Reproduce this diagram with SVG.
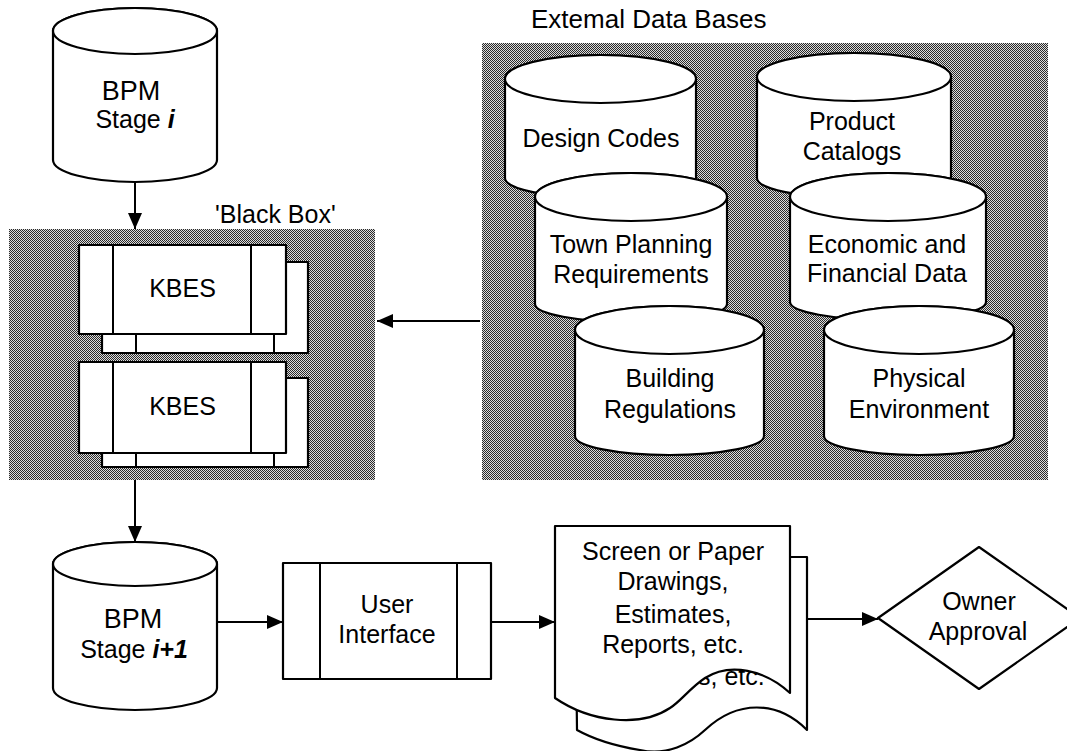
<svg xmlns="http://www.w3.org/2000/svg" width="1067" height="751" viewBox="0 0 1067 751">
<style>
  text { font-family: "Liberation Sans", Arial, sans-serif; font-size: 25px; fill: #000; }
  .c { text-anchor: middle; }
  .it { font-style: italic; font-weight: bold; }
  .s { fill: #fff; stroke: #000; stroke-width: 2.2; stroke-linejoin: round; }
  .ln { fill: none; stroke: #000; stroke-width: 2; }
  .shade { fill: url(#dither); }
  .conn { fill: none; stroke: #000; stroke-width: 2; marker-end: url(#arr); }
</style>
<defs>
  <pattern id="dither" x="0" y="0" width="2" height="2" patternUnits="userSpaceOnUse">
    <rect width="2" height="2" fill="#dcdcdc"/>
    <rect x="0" y="0" width="1" height="1" fill="#2a2a2a"/>
    <rect x="1" y="1" width="1" height="1" fill="#2a2a2a"/>
  </pattern>
  <marker id="arr" markerWidth="16" markerHeight="14" refX="16" refY="7" orient="auto" markerUnits="userSpaceOnUse">
    <path d="M0,0 L16,7 L0,14 Z" fill="#000"/>
  </marker>
</defs>
<rect width="1067" height="751" fill="#fff"/>

<!-- BPM Stage i -->
<g id="bpm-i">
  <path class="s" d="M53,31 V160 A82,22 0 0 0 217,160 V31 A82,23 0 0 0 53,31 Z"/>
  <ellipse class="s" cx="135" cy="31" rx="82" ry="23"/>
  <text class="c" x="131" y="100" style="font-size:27px">BPM</text>
  <text class="c" x="135" y="128">Stage <tspan class="it">i</tspan></text>
</g>

<!-- Black box -->
<g id="black-box">
  <rect class="shade" x="9" y="229" width="366" height="251"/>
  <text x="215" y="223">'Black Box'</text>
</g>

<g id="kbes-1">
  <rect class="s" x="102" y="262" width="206" height="91"/>
  <line class="ln" x1="136" y1="262" x2="136" y2="353"/>
  <line class="ln" x1="274" y1="262" x2="274" y2="353"/>
  <rect class="s" x="79" y="245" width="207" height="89"/>
  <line class="ln" x1="113" y1="245" x2="113" y2="334"/>
  <line class="ln" x1="251" y1="245" x2="251" y2="334"/>
  <text class="c" x="182.5" y="297">KBES</text>
</g>

<g id="kbes-2">
  <rect class="s" x="102" y="378" width="206" height="89"/>
  <line class="ln" x1="136" y1="378" x2="136" y2="467"/>
  <line class="ln" x1="274" y1="378" x2="274" y2="467"/>
  <rect class="s" x="79" y="362" width="207" height="91"/>
  <line class="ln" x1="113" y1="362" x2="113" y2="453"/>
  <line class="ln" x1="251" y1="362" x2="251" y2="453"/>
  <text class="c" x="182.5" y="415">KBES</text>
</g>

<!-- External data bases -->
<g id="external-data-bases">
  <rect class="shade" x="482" y="43" width="566" height="437"/>
  <text x="531" y="28" style="font-size:26px">Extemal Data Bases</text>
</g>

<g id="design-codes">
  <path class="s" d="M505,79 V178 A95.5,20 0 0 0 696,178 V79 A95.5,24 0 0 0 505,79 Z"/>
  <ellipse class="s" cx="600.5" cy="79" rx="95.5" ry="24"/>
  <text class="c" x="601" y="147">Design Codes</text>
</g>

<g id="product-catalogs">
  <path class="s" d="M757,77 V178 A97,20 0 0 0 951,178 V77 A97,24 0 0 0 757,77 Z"/>
  <ellipse class="s" cx="854" cy="77" rx="97" ry="24"/>
  <text class="c" x="852" y="130">Product</text>
  <text class="c" x="852" y="160">Catalogs</text>
</g>

<g id="town-planning">
  <path class="s" d="M535,197 V304 A96,18 0 0 0 727,304 V197 A96,24 0 0 0 535,197 Z"/>
  <ellipse class="s" cx="631" cy="197" rx="96" ry="24"/>
  <text class="c" x="631" y="253">Town Planning</text>
  <text class="c" x="631" y="283">Requirements</text>
</g>

<g id="economic-financial">
  <path class="s" d="M790,197 V302 A98,18 0 0 0 986,302 V197 A98,24 0 0 0 790,197 Z"/>
  <ellipse class="s" cx="888" cy="197" rx="98" ry="24"/>
  <text class="c" x="887" y="253">Economic and</text>
  <text class="c" x="887" y="282">Financial Data</text>
</g>

<g id="building-regulations">
  <path class="s" d="M575,330 V436 A94.5,19 0 0 0 764,436 V330 A94.5,24 0 0 0 575,330 Z"/>
  <ellipse class="s" cx="669.5" cy="330" rx="94.5" ry="24"/>
  <text class="c" x="670" y="387">Building</text>
  <text class="c" x="670" y="418">Regulations</text>
</g>

<g id="physical-environment">
  <path class="s" d="M824,330 V436 A95,19 0 0 0 1014,436 V330 A95,24 0 0 0 824,330 Z"/>
  <ellipse class="s" cx="919" cy="330" rx="95" ry="24"/>
  <text class="c" x="919" y="387">Physical</text>
  <text class="c" x="919" y="418">Environment</text>
</g>

<!-- BPM Stage i+1 -->
<g id="bpm-i1">
  <path class="s" d="M53,564 V688 A82,22 0 0 0 217,688 V564 A82,22 0 0 0 53,564 Z"/>
  <ellipse class="s" cx="135" cy="564" rx="82" ry="22"/>
  <text class="c" x="133" y="628" style="font-size:27px">BPM</text>
  <text class="c" x="134" y="658">Stage <tspan class="it">i+1</tspan></text>
</g>

<!-- User Interface -->
<g id="user-interface">
  <rect class="s" x="283" y="563" width="208" height="116"/>
  <line class="ln" x1="320" y1="563" x2="320" y2="679"/>
  <line class="ln" x1="457" y1="563" x2="457" y2="679"/>
  <text class="c" x="387" y="613">User</text>
  <text class="c" x="387" y="643">Interface</text>
</g>

<!-- Documents -->
<g id="documents">
  <path class="s" d="M575,557 H807 V730 C777,700 737,700 705,730 C690,744 667,756 640,750 C615,746 595,740 577,730 Z"/>
  <text x="698" y="685">s, etc.</text>
  <path class="s" d="M555,526 H790 V693 C765,670 730,662 705,678 C690,688 680,702 670,708 C640,728 590,722 555,698 Z"/>
  <text class="c" x="673" y="560">Screen or Paper</text>
  <text class="c" x="673" y="590">Drawings,</text>
  <text class="c" x="673" y="623">Estimates,</text>
  <text class="c" x="673" y="653">Reports, etc.</text>
</g>

<!-- Owner Approval -->
<g id="owner-approval">
  <path class="s" d="M878,618 L979,547 L1080,618 L979,689 Z"/>
  <text class="c" x="979" y="610">Owner</text>
  <text class="c" x="978" y="640">Approval</text>
</g>

<!-- Connectors -->
<g id="connectors">
  <line class="conn" x1="135" y1="182" x2="135" y2="229"/>
  <line class="conn" x1="480" y1="321" x2="377" y2="321"/>
  <line class="conn" x1="135" y1="480" x2="135" y2="542"/>
  <line class="conn" x1="217" y1="622" x2="283" y2="622"/>
  <line class="conn" x1="491" y1="622" x2="555" y2="622"/>
  <line class="conn" x1="808" y1="619" x2="878" y2="619"/>
</g>
</svg>
